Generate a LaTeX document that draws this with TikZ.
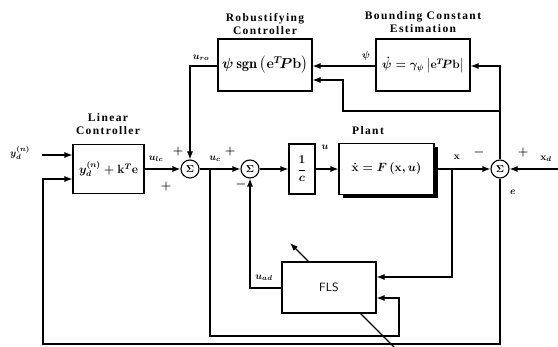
\documentclass[tikz,border=0pt]{standalone}
\usepackage{amsmath}
\usepackage{fontspec}
\usetikzlibrary{arrows.meta}
\usetikzlibrary{shadows}
\newfontfamily\titlefont[LetterSpace=12]{Liberation Serif}
\begin{document}
\begin{tikzpicture}[x=1pt,y=-1pt]
    \tikzset{block/.style = {shape=rectangle,draw,line width=1.1pt,fill=white,inner sep=0pt,font=\boldmath}}
    \tikzset{sumnode/.style = {shape=circle,draw,line width=1.1pt,fill=white,minimum size=18pt,inner sep=0pt,font=\boldmath}}
    \tikzset{title/.style = {align=center,font=\titlefont\bfseries\fontsize{11.5}{13.5}\selectfont}}
    \tikzset{sig/.style = {font=\normalsize\boldmath,inner sep=1pt}}
    \tikzset{sign/.style = {font=\large\boldmath,inner sep=0pt}}
    \tikzset{edge/.style = {-{Latex[length=8pt,width=6pt]},line width=1.1pt}}
    \useasboundingbox (0,0) rectangle (558,347);

    % blocks
    \node[block,minimum width=71pt,minimum height=49pt] (lin) at (108.5,169) {\large $y_d^{(n)}+\mathbf{k}^T\mathbf{e}$};
    \node[sumnode] (s1) at (190,169) {$\Sigma$};
    \node[sumnode] (s2) at (250,169) {$\Sigma$};
    \node[block,minimum width=26pt,minimum height=50pt] (inv) at (302,169) {\large $\dfrac{1}{c}$};
    \node[block,minimum width=95pt,minimum height=51pt,
          drop shadow={fill=black,opacity=1,shadow xshift=4pt,shadow yshift=-4pt}] (plant) at (386.5,169) {\large $\dot{\mathbf{x}}=F\left(\mathbf{x},u\right)$};
    \node[sumnode] (s3) at (500,169) {$\Sigma$};
    \node[block,minimum width=94pt,minimum height=52pt] (rob) at (265,65) {\Large $\psi\,\mathrm{sgn}\left(\mathbf{e}^T\! P\mathbf{b}\right)$};
    \node[block,minimum width=94pt,minimum height=52pt] (bnd) at (423,65) {\large $\dot{\psi}=\gamma_\psi\left|\mathbf{e}^T\! P\mathbf{b}\right|$};

    % adaptation arrow through the FLS
    \coordinate (adS) at (394,347);
    \coordinate (adE) at (290,243);
    \draw[edge] (adS) to (adE);
    \node[block,minimum width=94pt,minimum height=51pt,font=\sffamily\large] (fls) at (329,287.5) {FLS};

    % titles
    \node[title] (tlin) at (108,124) {Linear\\Controller};
    \node[title] (trob) at (265,24) {Robustifying\\Controller};
    \node[title] (tbnd) at (423,22) {Bounding Constant\\Estimation};
    \node[title] (tplant) at (368,131) {Plant};

    % free ends
    \coordinate (ydin) at (42,155);
    \coordinate (xdin) at (558,169);
    \coordinate (jc) at (210,169);
    \coordinate (jx) at (452,169);
    \coordinate (je) at (500,111);

    %edges
    \draw[edge] (ydin) to (ydin -| lin.west);
    \draw[edge] (lin.east) to (s1.west);
    \draw[edge] (rob.west |- 0,66) -| (s1.north);
    \draw[edge] (s1.east) to (s2.west);
    \draw[edge] (s2.east) to (inv.west);
    \draw[edge] (inv.east) to (plant.west);
    \draw[edge] (plant.east) to (s3.west);
    \draw[edge] (xdin) to (s3.east);
    \draw[edge] (s3.north) |- (bnd.east |- 0,66);
    \draw[edge] (bnd.west |- 0,66) to (rob.east |- 0,66);
    \draw[edge] (je) -- (343,111) |- (rob.east |- 0,80);
    \draw[edge] (jx) |- (fls.east |- 0,277);
    \draw[edge] (jc) |- (399,336) |- (fls.east |- 0,298);
    \draw[edge] (fls.west |- 0,288) -| (s2.south);
    \draw[edge] (s3.south) |- (43,344) |- (lin.west |- 0,179);

    % signal labels
    \node[sig] (lyd) at (20,153) {$y_d^{(n)}$};
    \node[sig] (llc) at (156,159) {$u_{lc}$};
    \node[sig] (lro) at (201,58) {$u_{ro}$};
    \node[sig] (luc) at (215,159) {$u_c$};
    \node[sig] (lu) at (325,147) {$u$};
    \node[sig] (lx) at (457,157) {$\mathbf{x}$};
    \node[sig] (lxd) at (546,159) {$\mathbf{x}_d$};
    \node[sig] (le) at (513,192) {$\boldsymbol{e}$};
    \node[sig] (lpsi) at (366,56) {$\psi$};
    \node[sig] (lad) at (264,278) {$u_{ad}$};
    \node[sign] (p1) at (178,152) {$+$};
    \node[sign] (p2) at (166,187) {$+$};
    \node[sign] (p3) at (230,152) {$+$};
    \node[sign] (m1) at (241,185) {$-$};
    \node[sign] (m2) at (479,153) {$-$};
    \node[sign] (p4) at (523,153) {$+$};
\end{tikzpicture}
\end{document}
